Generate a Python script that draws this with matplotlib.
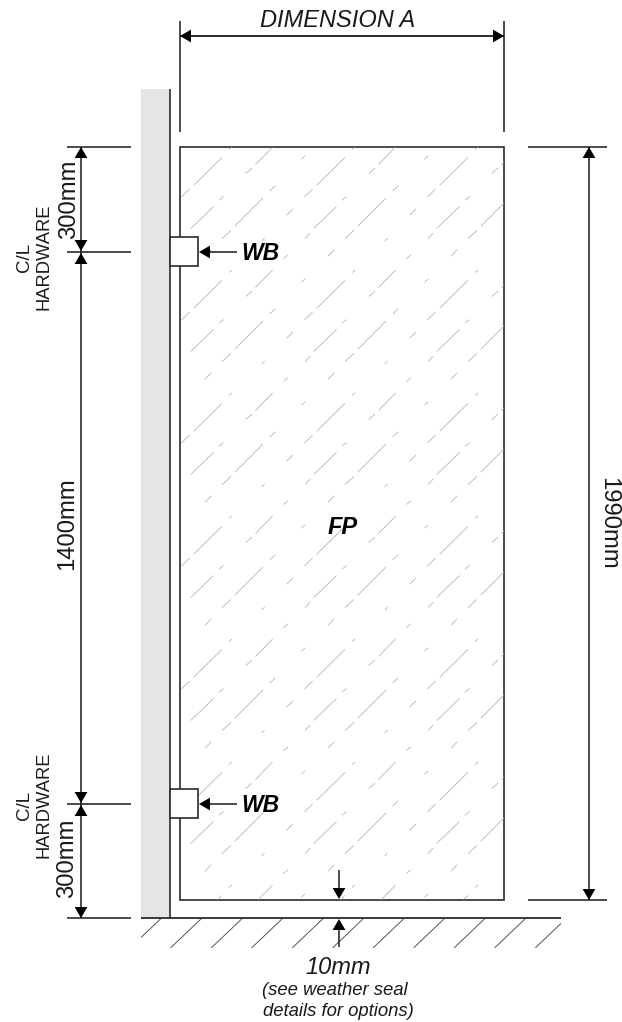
import matplotlib
matplotlib.use('Agg')
import matplotlib.pyplot as plt
from matplotlib.patches import Rectangle, Polygon

# everything below is in reference pixels (y going down)
WIDTH, HEIGHT = 622, 1022
INK = '#1a1a1a'
FONT = 'Liberation Sans'

wall_x = [141, 170]
wall_y = [89, 918]
panel_x = [180, 504]
panel_y = [147, 900]
floor_y = 918
floor_end = 561
bracket_y = [252, 804]
left_dim_ticks = [147, 252, 804, 918]
left_dim_x = 81
right_dim_x = 589
top_dim_y = 36

# one tile of the glass hatching, x0 y0 x1 y1
glass_tile = [
    (194, 185, 221.7, 157.7), (181.7, 196.7, 189.3, 189.3),
    (229.3, 149.3, 231.7, 147.3), (246, 173.3, 251.7, 168.3),
    (255.7, 164.3, 272.3, 147.3), (219.3, 200, 223.3, 196.7),
    (191, 228.3, 213.3, 206.7), (235, 226, 262.7, 198.3),
    (270, 190.7, 275, 186), (286.7, 215, 292.7, 209.3),
    (222.3, 238.3, 230.7, 230.7), (301.7, 159, 305, 156),
    (305.3, 238.3, 310, 233.3), (205.3, 256, 211, 250),
    (262, 240.7, 264.3, 238.3), (283.7, 258.3, 287.7, 255),
]
tile_size = 123
floor_hatch_x = [130.5, 171, 211.7, 252, 292.7, 333, 373.5, 414, 454.5, 495, 535.7]

left_labels = [('300mm', 75, 199.5), ('1400mm', 73.3, 523.5), ('300mm', 73, 858)]
hardware_y = [257, 805]


def arrow(ax, tip_x, tip_y, dx, dy, length=11, half=6.4):
    base_x, base_y = tip_x + dx * length, tip_y + dy * length
    ax.add_patch(Polygon([(tip_x, tip_y),
                          (base_x - dy * half, base_y - dx * half),
                          (base_x + dy * half, base_y + dx * half)],
                         closed=True, fc='black', ec='none', zorder=6))


def line(ax, xs, ys, lw=1.1, color=INK, z=4):
    ax.plot(xs, ys, color=color, lw=lw, solid_capstyle='butt', zorder=z)


def label(ax, x, y, s, size, rot=0, **kw):
    ax.text(x, y, s, family=FONT, fontsize=size, rotation=rot, rotation_mode='anchor',
            ha=kw.pop('ha', 'center'), va='baseline', color=kw.pop('color', INK), zorder=7, **kw)


fig = plt.figure(figsize=(WIDTH / 100, HEIGHT / 100), dpi=100)
ax = fig.add_axes([0, 0, 1, 1])
ax.set_xlim(0, WIDTH)
ax.set_ylim(HEIGHT, 0)
ax.axis('off')

# wall
ax.add_patch(Rectangle((wall_x[0], wall_y[0]), wall_x[1] - wall_x[0], wall_y[1] - wall_y[0],
                       fc='#e4e5e7', ec='none', zorder=1))
line(ax, [wall_x[1]] * 2, wall_y)

# glass panel with clipped hatching
panel = Rectangle((panel_x[0], panel_y[0]), panel_x[1] - panel_x[0], panel_y[1] - panel_y[0],
                  fc='white', ec='#2b2b2b', lw=1.2, zorder=3)
ax.add_patch(panel)
clip = Rectangle((panel_x[0], panel_y[0]), panel_x[1] - panel_x[0], panel_y[1] - panel_y[0],
                 transform=ax.transData)
for col in range(3):
    for row in range(7):
        for x0, y0, x1, y1 in glass_tile:
            seg, = ax.plot([x0 + col * tile_size, x1 + col * tile_size],
                           [y0 + row * tile_size, y1 + row * tile_size],
                           color='#a8a8a8', lw=0.5, zorder=3.5)
            seg.set_clip_path(clip)

# floor
line(ax, [wall_x[0], floor_end], [floor_y, floor_y], lw=1.3, color='#2b2b2b')
floor_clip = Rectangle((wall_x[0], floor_y), floor_end - wall_x[0], 40, transform=ax.transData)
for x in floor_hatch_x:
    seg, = ax.plot([x, x + 31], [floor_y + 29.5, floor_y], color='#555555', lw=0.7, zorder=2)
    seg.set_clip_path(floor_clip)

# wall brackets
for y in bracket_y:
    ax.add_patch(Rectangle((170, y - 15), 28, 29, fc='white', ec='#2b2b2b', lw=1.2, zorder=5))
    line(ax, [207, 237], [y, y])
    arrow(ax, 199, y, 1, 0)
    label(ax, 241, y + 7.5, 'WB', 16.5, ha='left', weight='bold', style='italic', color='black')

# top dimension
for x in panel_x:
    line(ax, [x, x], [21, 132])
line(ax, [panel_x[0], panel_x[1]], [top_dim_y, top_dim_y], lw=1.3)
arrow(ax, panel_x[0], top_dim_y, 1, 0)
arrow(ax, panel_x[1], top_dim_y, -1, 0)
label(ax, 338, 27, 'DIMENSION A', 17, style='italic')

# left dimensions
for y in left_dim_ticks:
    line(ax, [67, 131], [y, y])
line(ax, [left_dim_x] * 2, [left_dim_ticks[0], left_dim_ticks[-1]])
arrow(ax, left_dim_x, left_dim_ticks[0], 0, 1)
arrow(ax, left_dim_x, left_dim_ticks[1] - 1, 0, -1)
arrow(ax, left_dim_x, left_dim_ticks[1] + 1, 0, 1)
arrow(ax, left_dim_x, left_dim_ticks[2] - 1, 0, -1)
arrow(ax, left_dim_x, left_dim_ticks[2] + 1, 0, 1)
arrow(ax, left_dim_x, left_dim_ticks[3], 0, -1)

for text, x, y in left_labels:
    label(ax, x, y, text, 17.2, rot=90)
for y in hardware_y:
    label(ax, 29, y, 'C/L', 13.5, rot=90)
    label(ax, 48, y, 'HARDWARE', 13.2, rot=90)

# right dimension
for y in panel_y:
    line(ax, [528, 607], [y, y])
line(ax, [right_dim_x] * 2, panel_y)
arrow(ax, right_dim_x, panel_y[0], 0, 1)
arrow(ax, right_dim_x, panel_y[1], 0, -1)
label(ax, 602, 523, '1990mm', 17.2, rot=-90)

# panel label
label(ax, 343, 534, 'FP', 17, weight='bold', style='italic', color='black')

# gap dimension
line(ax, [339, 339], [870, 890])
arrow(ax, 339, 899, 0, -1)
line(ax, [339, 339], [928, 947])
arrow(ax, 339, 919, 0, 1)
label(ax, 338.5, 974, '10mm', 17, style='italic')
label(ax, 335, 995, '(see weather seal', 13.3, style='italic')
label(ax, 338, 1016, 'details for options)', 13.3, style='italic')

fig.savefig('out.png', dpi=100)
